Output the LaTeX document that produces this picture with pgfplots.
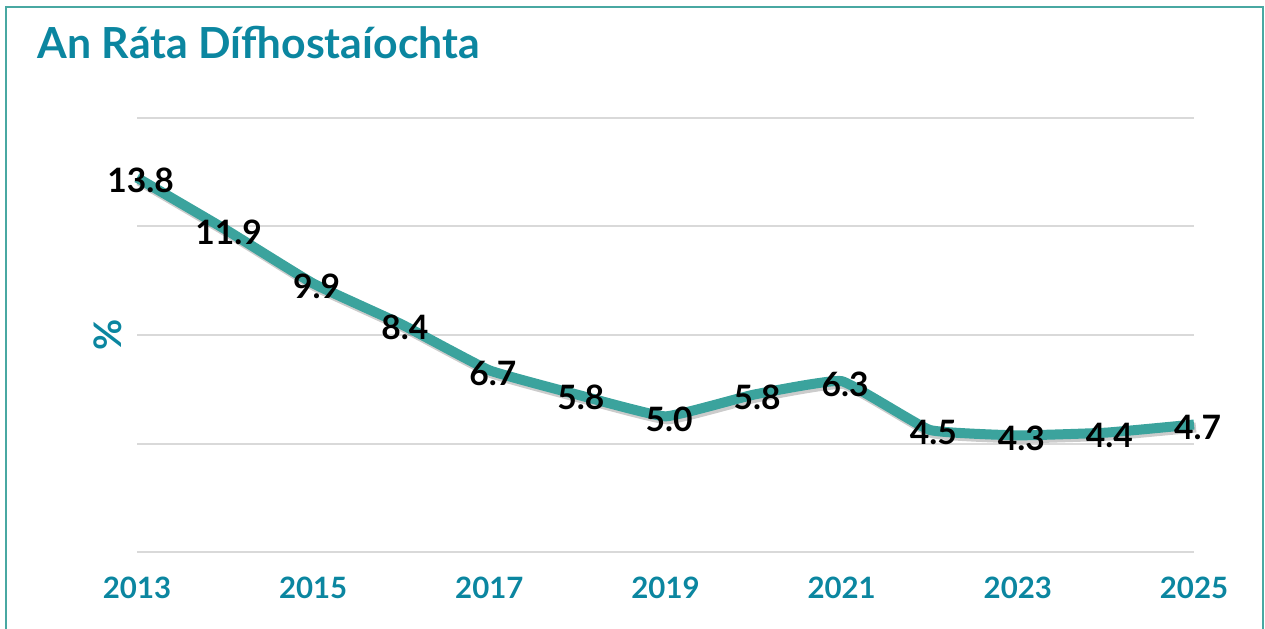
\documentclass[border=0pt]{standalone}
\usepackage{pgfplots}
\usepackage{pgfplotstable}
\pgfplotsset{compat=1.18}
\usepackage{fontspec}
\setmainfont{Lato}
\definecolor{titleblue}{HTML}{0B86A0}
\definecolor{linegreen}{HTML}{3BA39D}
\definecolor{framecol}{HTML}{48A8A2}
\definecolor{gridgray}{HTML}{D9D9D9}
\pgfplotstableread{
year rate
2013 13.8
2014 11.9
2015 9.9
2016 8.4
2017 6.7
2018 5.8
2019 5.0
2020 5.8
2021 6.3
2022 4.5
2023 4.3
2024 4.4
2025 4.7
}\ratetable
\begin{document}
\begin{tikzpicture}[x=1pt,y=1pt]
\path[use as bounding box] (0,0) rectangle (632.5,314);
\draw[framecol, line width=1pt] (2.75,-2) -- (2.75,310.6) -- (631.6,310.6) -- (631.6,-2);
\node[anchor=base west, inner sep=0, text=titleblue, font=\fontsize{21.4}{25}\selectfont\bfseries] at (18.6,284.9) {An Ráta Dífhostaíochta};
\begin{axis}[
  at={(68.5pt,38pt)}, anchor=south west,
  scale only axis, width=528.5pt, height=217pt,
  xmin=2013, xmax=2025, ymin=0, ymax=16,
  clip=false,
  axis line style={draw=none},
  tick style={draw=none},
  xtick={2013,2015,...,2025},
  ytick={0,4,...,16},
  yticklabels={},
  ymajorgrids,
  major grid style={gridgray, line width=1pt},
  /pgf/number format/1000 sep={},
  /pgf/number format/assume math mode=true,
  xticklabel style={text=titleblue, font=\fontsize{14.7}{17}\selectfont\bfseries, anchor=center, yshift=-18pt},
  ylabel={\%},
  ylabel style={at={(rel axis cs:-0.0274,0.5)}, anchor=center, text=titleblue, font=\fontsize{19}{22}\selectfont\bfseries},
]
\addplot[draw=black, opacity=0.2, line width=5pt, smooth, tension=0.2, line join=round, transform canvas={xshift=1pt,yshift=-1.5pt}, forget plot] table[x=year,y=rate] {\ratetable};
\addplot[draw=linegreen, line width=5pt, smooth, tension=0.2, line join=round,
  nodes near coords={\pgfmathprintnumber[fixed,fixed zerofill,precision=1,assume math mode=true]{\pgfplotspointmeta}},
  every node near coord/.append style={anchor=center, text=black, font=\fontsize{16.8}{19}\selectfont\bfseries, xshift=1.75pt, yshift=-1.5pt}
] table[x=year,y=rate] {\ratetable};
\end{axis}
\end{tikzpicture}
\end{document}
